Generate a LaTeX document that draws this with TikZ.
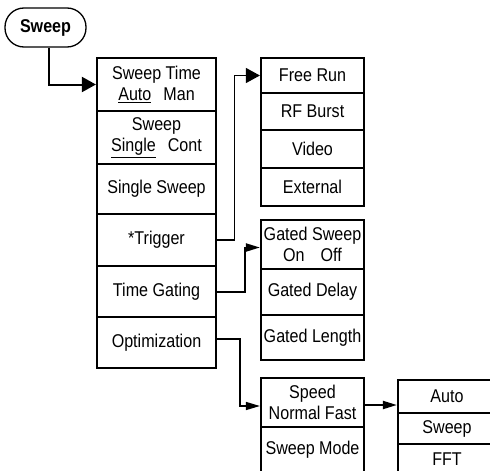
\documentclass[tikz,border=0pt]{standalone}
\usepackage{fontspec}
\setmainfont{Liberation Sans}[FakeStretch=0.87]
\usetikzlibrary{arrows.meta}
\begin{document}
\begin{tikzpicture}[x=1pt,y=-1pt,
  cell/.style={draw, line width=2.2pt, inner sep=0pt, align=center,
    font=\fontsize{18.5}{21}\selectfont},
  maincell/.style={cell, minimum width=119pt},
  trigcell/.style={cell, minimum width=103pt},
  autocell/.style={cell, minimum width=98pt},
  bigtip/.style={-{Triangle[length=14pt,width=15pt]}},
  smalltip/.style={-{Triangle[length=14pt,width=8pt]}}
]
\useasboundingbox (0,0) rectangle (490,471);
\clip (0,0) rectangle (490,471);

% top pill
\node[draw, line width=1.3pt, rounded corners=19pt, minimum width=81pt,
  minimum height=39pt, inner sep=0pt,
  font=\fontsize{18.5}{21}\selectfont\bfseries] (sw) at (45.5,27.5) {Sweep};

% main column
\node[maincell, minimum height=53pt] (st) at (156.5,84.5) {Sweep Time\\\underline{Auto}\hspace{12pt}Man};
\node[maincell, minimum height=53pt] (sc) at (156.5,137.5) {Sweep\\\underline{Single}\hspace{12pt}Cont};
\node[maincell, minimum height=50pt] (ss) at (156.5,189) {Single Sweep};
\node[maincell, minimum height=52pt] (trig) at (156.5,240) {*Trigger};
\node[maincell, minimum height=51pt] (tg) at (156.5,291.5) {Time Gating};
\node[maincell, minimum height=51pt] (opt) at (156.5,342.5) {Optimization};

% trigger column
\node[trigcell, minimum height=35pt] (fr) at (312.5,75.5) {Free Run};
\node[trigcell, minimum height=37pt] (rf) at (312.5,111.5) {RF Burst};
\node[trigcell, minimum height=38pt] (vid) at (312.5,149) {Video};
\node[trigcell, minimum height=38pt] (ext) at (312.5,187) {External};

% gating column
\node[trigcell, minimum height=49pt] (gs) at (312.5,244.5) {Gated Sweep\\On\hspace{16pt}Off};
\node[trigcell, minimum height=46pt] (gd) at (312.5,292) {Gated Delay};
\node[trigcell, minimum height=45pt] (gl) at (312.5,337.5) {Gated Length};

% optimization column
\node[trigcell, minimum height=49pt] (sp) at (312.5,402.5) {Speed\\Normal Fast};
\node[trigcell, minimum height=46pt] (sm) at (312.5,450) {Sweep Mode};

% sweep mode column
\node[autocell, minimum height=33pt] (au) at (447,396.5) {Auto};
\node[autocell, minimum height=31pt] (swm) at (447,428.5) {Sweep};
\node[autocell, minimum height=30pt] (fft) at (447,459) {FFT};

% connectors
\draw[line width=2pt, bigtip] ([xshift=3.5pt]sw.south) |- (st.west);
\draw[line width=1.2pt, bigtip] (trig.east) -- ++(17,0) |- (fr.west);
\draw[line width=2pt, smalltip] (tg.east) -- ++(28,0) |- ([yshift=-3pt]gs.west);
\draw[line width=1.4pt, smalltip] ([yshift=3.5pt]opt.east) -- ++(23,0) |- ([yshift=-3.5pt]sp.west);
\draw[line width=2pt, smalltip] ([yshift=-2.5pt]sp.east) -- ([yshift=-2.5pt]sp.east -| au.west);
\end{tikzpicture}
\end{document}
